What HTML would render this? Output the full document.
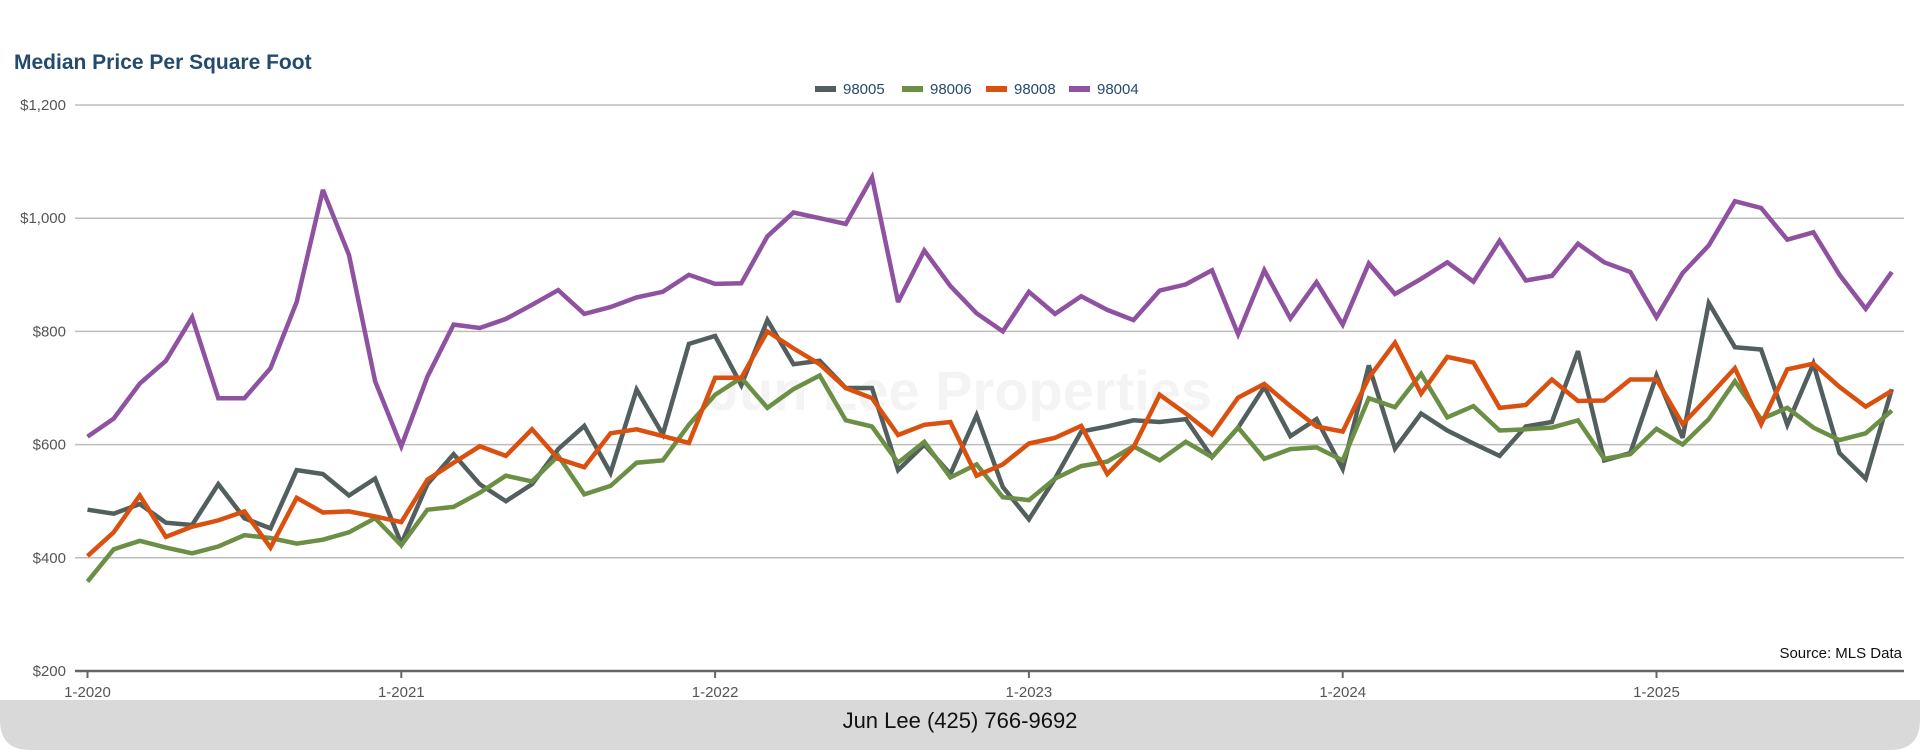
<!DOCTYPE html>
<html><head><meta charset="utf-8"><style>
html,body{margin:0;padding:0;background:#fff;}
body{width:1920px;height:750px;overflow:hidden;font-family:"Liberation Sans",sans-serif;}
svg text{font-family:"Liberation Sans",sans-serif;}
</style></head><body>
<svg id="chart" width="1920" height="750" viewBox="0 0 1920 750" xmlns="http://www.w3.org/2000/svg">
<text x="960" y="410" text-anchor="middle" font-size="56" font-weight="bold" fill="#f4f4f4">Jun Lee Properties</text>
<g id="grid"></g>
<g id="series"></g>
<text x="14" y="69" font-size="21" font-weight="bold" fill="#244a6e">Median Price Per Square Foot</text>
<g id="legend"></g>
<text x="1902" y="658" text-anchor="end" font-size="15" fill="#111">Source: MLS Data</text>
<path d="M0 700 H1920 V720 Q1920 750 1890 750 H30 Q0 750 0 720 Z" fill="#d9d9d9"/>
<text x="960" y="728" text-anchor="middle" font-size="22" fill="#111">Jun Lee (425) 766-9692</text>
</svg>
<script>
const yTicks = [200,400,600,800,1000,1200];
const yTickLabels = ["$200","$400","$600","$800","$1,000","$1,200"];
const xTickMonths = [0,12,24,36,48,60];
const xTickLabels = ["1-2020","1-2021","1-2022","1-2023","1-2024","1-2025"];
const seriesNames = ["98005","98006","98008","98004"];
const s98005 = [485,478,495,462,458,530,470,452,555,548,510,540,425,530,583,530,500,530,592,633,550,697,618,778,792,705,820,742,748,700,700,555,600,548,652,525,468,540,623,632,643,640,645,578,630,702,615,645,557,740,593,655,625,602,580,632,640,765,572,585,722,612,850,772,768,635,743,585,540,698];
const s98006 = [358,415,430,418,408,420,440,435,425,432,445,470,422,485,490,515,545,535,580,512,527,568,572,635,688,718,665,698,722,643,632,568,605,542,565,507,502,540,562,570,597,572,605,578,630,575,592,595,572,682,666,725,648,668,625,627,630,643,575,583,628,600,645,712,645,665,630,608,620,660];
const s98008 = [403,445,510,437,455,466,482,418,506,480,482,473,463,538,568,597,580,627,575,560,620,627,615,603,718,718,800,770,742,700,682,617,635,640,545,565,602,612,633,548,595,688,655,618,683,707,668,632,623,718,780,690,755,745,665,670,715,677,678,715,715,636,685,735,636,733,743,702,667,695];
const s98004 = [614,646,708,748,825,682,682,735,852,1050,935,712,597,720,812,806,822,847,873,831,843,860,870,900,884,885,968,1010,1000,990,1072,852,943,880,832,800,870,831,862,838,820,872,883,908,795,908,823,887,812,920,866,893,922,888,960,890,898,955,922,905,825,903,952,1030,1018,962,975,900,840,905];

const NS="http://www.w3.org/2000/svg";
const X0=87.5, MW=26.15, YTOP=105, YBOT=671, XL=75, XR=1904;
const xs = m => X0 + m*MW;
const ys = v => YBOT - (v-200)/1000*(YBOT-YTOP);
function mk(tag, attrs, parent){const e=document.createElementNS(NS,tag);for(const k in attrs)e.setAttribute(k,attrs[k]);parent.appendChild(e);return e;}
const grid=document.getElementById('grid');
yTicks.forEach((v,i)=>{
  const l=mk('line',{x1:XL,x2:XR,y1:ys(v),y2:ys(v),stroke:i===0?'#666':'#bdbdbd','stroke-width':i===0?2.5:1.5},grid);
  
  
  const t=mk('text',{x:66,y:ys(v)+5,'text-anchor':'end','font-size':15,fill:'#555'},grid);
  t.textContent=yTickLabels[i];
  
  
});
xTickMonths.forEach((m,i)=>{
  const l=mk('line',{x1:xs(m),x2:xs(m),y1:YBOT,y2:YBOT+7,stroke:'#666','stroke-width':2},grid);
  
  
  const t=mk('text',{x:xs(m),y:697,'text-anchor':'middle','font-size':15,fill:'#555'},grid);
  t.textContent=xTickLabels[i];
  
  
});
const colors=["#535e5e","#6a8f45","#d9500f","#8e52a0"];
const data=[s98005,s98006,s98008,s98004];
const sg=document.getElementById('series');
data.forEach((arr,i)=>{
  const d=arr.map((v,m)=>(m?'L':'M')+xs(m).toFixed(1)+' '+ys(v).toFixed(1)).join(' ');
  const p=mk('path',{d:d,fill:'none',stroke:colors[i],'stroke-width':4.5,'stroke-linejoin':'miter','stroke-miterlimit':3},sg);
  
  
});
const lg=document.getElementById('legend');
const lx=[815,902,986,1069];
seriesNames.forEach((n,i)=>{
  const r=mk('rect',{x:lx[i],y:86,width:21,height:6,fill:colors[i]},lg);
  
  
  const t=mk('text',{x:lx[i]+28,y:94,'font-size':15,fill:'#244a6e'},lg);
  t.textContent=n;
  
  
});
</script>
</body></html>
